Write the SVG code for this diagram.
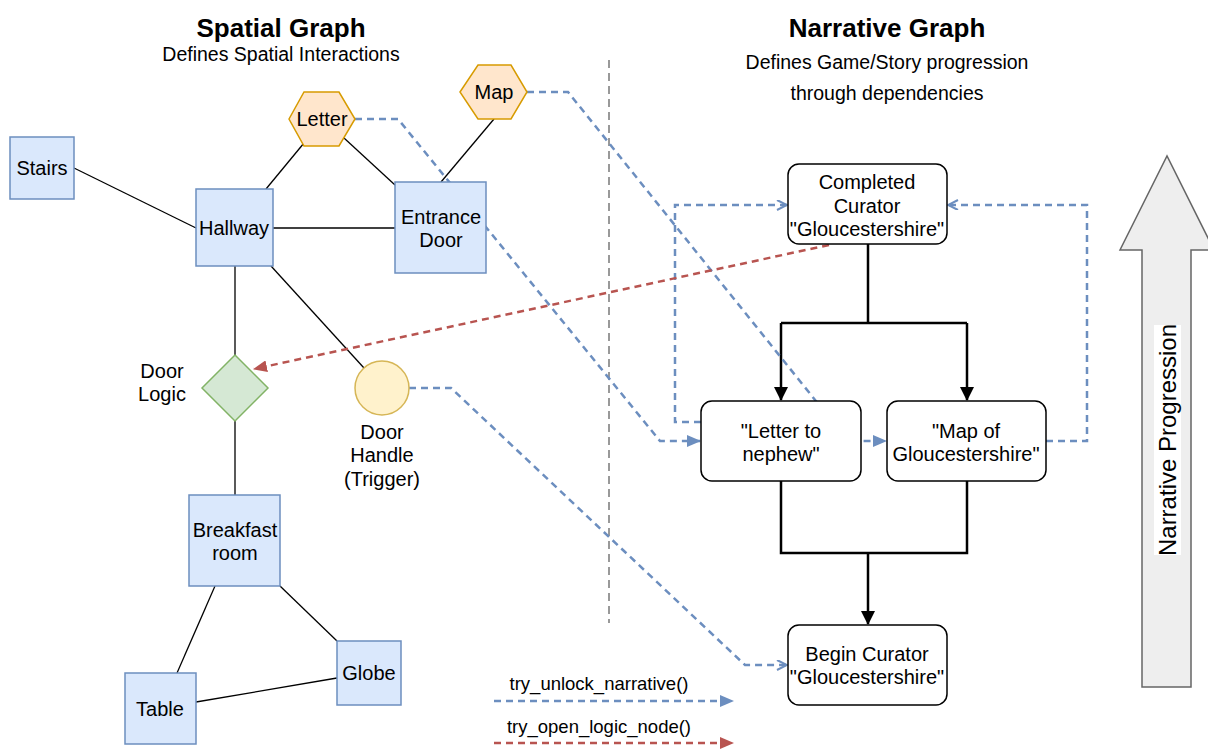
<svg xmlns="http://www.w3.org/2000/svg" width="1208" height="749" viewBox="0 0 1208 749">
<defs>
<style>
text{font-family:"Liberation Sans",Arial,sans-serif;fill:#000;}
.t{font-size:20px;text-anchor:middle;}
.title{font-size:26px;font-weight:bold;text-anchor:middle;}
.sub{font-size:19.5px;text-anchor:middle;}
.room{fill:#dae8fc;stroke:#6c8ebf;stroke-width:1.5;}
.item{fill:#ffe6cc;stroke:#d79b00;stroke-width:1.5;}
.logic{fill:#d5e8d4;stroke:#82b366;stroke-width:1.5;}
.trig{fill:#fff2cc;stroke:#d6b656;stroke-width:1.5;}
.nar{fill:#fff;stroke:#000;stroke-width:1.5;}
.e{stroke:#000;stroke-width:1.3;fill:none;}
.tree{stroke:#000;stroke-width:2.5;fill:none;}
.blue{stroke:#6c8ebf;stroke-width:2.5;stroke-dasharray:7 5;fill:none;}
.red{stroke:#b85450;stroke-width:2.5;stroke-dasharray:7 5;fill:none;}
</style>
<marker id="bb" markerUnits="userSpaceOnUse" markerWidth="14" markerHeight="12" refX="13" refY="6" orient="auto"><path d="M0,0 L14,6 L0,12 Z" fill="#6c8ebf"/></marker>
<marker id="ob" markerUnits="userSpaceOnUse" markerWidth="12" markerHeight="12" refX="11" refY="5" orient="auto"><path d="M1,0 L11,5 L1,10" fill="none" stroke="#6c8ebf" stroke-width="2"/></marker>
<marker id="br" markerUnits="userSpaceOnUse" markerWidth="14" markerHeight="12" refX="13" refY="6" orient="auto"><path d="M0,0 L14,6 L0,12 Z" fill="#b85450"/></marker>
<marker id="bk" markerUnits="userSpaceOnUse" markerWidth="14" markerHeight="14" refX="13" refY="7" orient="auto"><path d="M0,0 L14,7 L0,14 Z" fill="#000"/></marker>
</defs>
<rect width="1208" height="749" fill="#fff"/>

<g id="titles">
<text class="title" x="281" y="37">Spatial Graph</text>
<text class="sub" x="281" y="61">Defines Spatial Interactions</text>
<text class="title" x="887" y="37">Narrative Graph</text>
<text class="sub" x="887" y="69">Defines Game/Story progression</text>
<text class="sub" x="887" y="100">through dependencies</text>
</g>

<line id="divider" x1="609" y1="60" x2="609" y2="623" stroke="#999" stroke-width="2" stroke-dasharray="8 5"/>

<g id="progression">
<path d="M1142,687 L1142,250 L1120,250 L1167,156 L1214,250 L1191,250 L1191,687 Z" fill="#eeeeee" stroke="#666" stroke-width="1.5"/>
<rect x="1154" y="325" width="27" height="230" fill="#fff"/>
<text x="1176" y="440" transform="rotate(-90 1176 440)" style="font-size:24px;text-anchor:middle;">Narrative Progression</text>
</g>

<g id="connectors">
<path class="e" d="M74,168 L196,228"/>
<path class="e" d="M266,189 L304,143"/>
<path class="e" d="M344,138 L395,185"/>
<path class="e" d="M494,119 L441,182"/>
<path class="e" d="M273,228 L395,228"/>
<path class="e" d="M235,266 L235,355"/>
<path class="e" d="M271,266 L364,368"/>
<path class="e" d="M235,421 L235,495"/>
<path class="e" d="M215,586 L177,673"/>
<path class="e" d="M280,586 L337,641"/>
<path class="e" d="M196,702 L337,678"/>

<path class="tree" d="M868,244 L868,323 M781,323 L967,323"/>
<path class="tree" d="M781,323 L781,400" marker-end="url(#bk)"/>
<path class="tree" d="M967,323 L967,400" marker-end="url(#bk)"/>
<path class="tree" d="M781,481 L781,553 L967,553 L967,481"/>
<path class="tree" d="M868,553 L868,624" marker-end="url(#bk)"/>

<path class="blue" d="M355,119 L398,119 L660,441 L700,441" marker-end="url(#bb)"/>
<path class="blue" d="M527,92 L568,92 L848,441 L886,441" marker-end="url(#bb)"/>
<path class="blue" d="M409,388 L451,388 L745,665 L787,665" marker-end="url(#ob)"/>
<path class="blue" d="M701,422 L675,422 L675,205 L787,205" marker-end="url(#ob)"/>
<path class="blue" d="M1046,441 L1087,441 L1087,205 L948,205" marker-end="url(#ob)"/>
<path class="red" d="M829,245 L254,369" marker-end="url(#br)"/>
</g>

<g id="legend">
<text x="599" y="690" style="font-size:18.5px;text-anchor:middle;">try_unlock_narrative()</text>
<path class="blue" d="M494,701 L733,701" marker-end="url(#bb)"/>
<text x="599" y="733" style="font-size:18.5px;text-anchor:middle;">try_open_logic_node()</text>
<path class="red" d="M494,743 L733,743" marker-end="url(#br)"/>
</g>

<g id="stairs"><rect class="room" x="10" y="137" width="64" height="62"/><text class="t" x="42" y="175">Stairs</text></g>
<g id="hallway"><rect class="room" x="196" y="189" width="77" height="77"/><text class="t" x="234" y="235">Hallway</text></g>
<g id="entrance"><rect class="room" x="395" y="182" width="91" height="91"/><text class="t" x="441" y="224">Entrance</text><text class="t" x="441" y="247">Door</text></g>
<g id="letter"><polygon class="item" points="289,119 304,92 339,92 355,119 339,146 304,146"/><text class="t" x="322" y="126">Letter</text></g>
<g id="map"><polygon class="item" points="460,92 478,65 511,65 527,92 511,119 478,119"/><text class="t" x="494" y="99">Map</text></g>
<g id="doorlogic"><polygon class="logic" points="235,355 268,388 235,421 202,388"/><text class="t" x="162" y="378">Door</text><text class="t" x="162" y="401">Logic</text></g>
<g id="doorhandle"><circle class="trig" cx="382" cy="388" r="27"/><text class="t" x="382" y="439">Door</text><text class="t" x="382" y="462">Handle</text><text class="t" x="382" y="486">(Trigger)</text></g>
<g id="breakfast"><rect class="room" x="189" y="495" width="91" height="91"/><text class="t" x="235" y="537">Breakfast</text><text class="t" x="235" y="560">room</text></g>
<g id="table"><rect class="room" x="125" y="673" width="71" height="71"/><text class="t" x="160" y="716">Table</text></g>
<g id="globe"><rect class="room" x="337" y="641" width="64" height="64"/><text class="t" x="369" y="680">Globe</text></g>

<g id="completed"><rect class="nar" x="788" y="164" width="159" height="80" rx="11"/><text class="t" x="867" y="189">Completed</text><text class="t" x="867" y="213">Curator</text><text class="t" x="867" y="236">"Gloucestershire"</text></g>
<g id="letternephew"><rect class="nar" x="701" y="401" width="160" height="80" rx="11"/><text class="t" x="781" y="438">"Letter to</text><text class="t" x="781" y="461">nephew"</text></g>
<g id="mapglos"><rect class="nar" x="887" y="401" width="159" height="80" rx="11"/><text class="t" x="966" y="438">"Map of</text><text class="t" x="966" y="461">Gloucestershire"</text></g>
<g id="begin"><rect class="nar" x="788" y="625" width="159" height="80" rx="11"/><text class="t" x="867" y="661">Begin Curator</text><text class="t" x="867" y="684">"Gloucestershire"</text></g>
</svg>
